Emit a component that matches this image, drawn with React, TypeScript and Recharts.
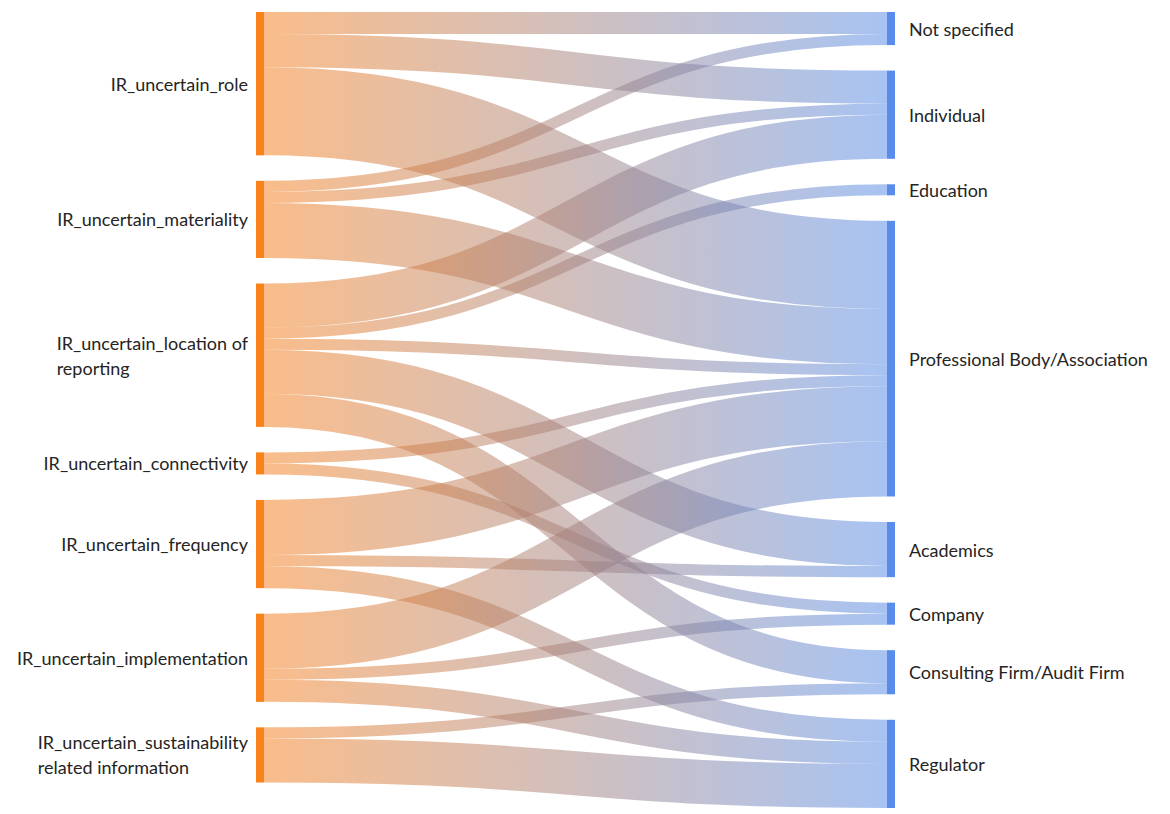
import React from "react";
import { Sankey } from "recharts";

document.body.style.margin = "0";

const sourceNames = [
  "IR_uncertain_role",
  "IR_uncertain_materiality",
  "IR_uncertain_location of reporting",
  "IR_uncertain_connectivity",
  "IR_uncertain_frequency",
  "IR_uncertain_implementation",
  "IR_uncertain_sustainability related information",
];

const targetNames = [
  "Not specified",
  "Individual",
  "Education",
  "Professional Body/Association",
  "Academics",
  "Company",
  "Consulting Firm/Audit Firm",
  "Regulator",
];

// [source index, target index, count]
const flows: [number, number, number][] = [
  [0, 0, 2], [0, 1, 3], [0, 3, 8],
  [1, 0, 1], [1, 1, 1], [1, 3, 5],
  [2, 1, 4], [2, 2, 1], [2, 3, 1], [2, 4, 4], [2, 6, 3],
  [3, 3, 1], [3, 5, 1],
  [4, 3, 5], [4, 4, 1], [4, 7, 2],
  [5, 3, 5], [5, 5, 1], [5, 7, 2],
  [6, 6, 1], [6, 7, 4],
];

const data = {
  nodes: [...sourceNames, ...targetNames].map((name) => ({ name })),
  links: flows.map(([s, t, v]) => ({ source: s, target: sourceNames.length + t, value: v })),
};

const FONT_NAME = "Lato";
const FONT_SIZE = 18;
const LINE_H = 25;
const TEXT = "#252423";
const ORANGE = "#F9821A";
const BLUE = "#5A8CEB";

// wrap long source labels the way the original does: lines left aligned,
// block pushed against the node
const ctx = document.createElement("canvas").getContext("2d");
function wrapLabel(text: string, maxWidth: number) {
  if (!ctx) return { lines: [text], width: 0 };
  ctx.font = `${FONT_SIZE}px ${FONT_NAME}`;
  const lines: string[] = [];
  let cur = "";
  for (const w of text.split(" ")) {
    const test = cur ? `${cur} ${w}` : w;
    if (cur && ctx.measureText(test).width > maxWidth) {
      lines.push(cur);
      cur = w;
    } else {
      cur = test;
    }
  }
  if (cur) lines.push(cur);
  const width = Math.max(...lines.map((l) => ctx.measureText(l).width));
  return { lines, width };
}

function SankeyNode(props: any) {
  const { x, y, width, height, index, payload } = props;
  const isSource = index < sourceNames.length;
  const cy = y + height / 2;
  if (isSource) {
    const { lines, width: w } = wrapLabel(payload.name, 240);
    const right = x - 8;
    const y0 = cy - ((lines.length - 1) * LINE_H) / 2;
    return (
      <g>
        <rect x={x} y={y} width={width} height={height} fill={ORANGE} />
        <text fontFamily={FONT_NAME} fontSize={FONT_SIZE} fill={TEXT}>
          {lines.map((l, i) => (
            <tspan key={i} x={right - w} y={y0 + i * LINE_H} dominantBaseline="central">
              {l}
            </tspan>
          ))}
        </text>
      </g>
    );
  }
  return (
    <g>
      <rect x={x} y={y} width={width} height={height} fill={BLUE} />
      <text
        x={x + width + 14}
        y={cy}
        dominantBaseline="central"
        fontFamily={FONT_NAME}
        fontSize={FONT_SIZE}
        fill={TEXT}
      >
        {payload.name}
      </text>
    </g>
  );
}

function SankeyLink(props: any) {
  const { sourceX, targetX, sourceY, targetY, sourceControlX, targetControlX, linkWidth, index } = props;
  const id = `flow-grad-${index}`;
  return (
    <g>
      <defs>
        <linearGradient id={id} gradientUnits="userSpaceOnUse" x1={sourceX} y1={0} x2={targetX} y2={0}>
          <stop offset="0%" stopColor="#F47A16" />
          <stop offset="100%" stopColor="#5187E5" />
        </linearGradient>
      </defs>
      <path
        d={`M${sourceX},${sourceY} C${sourceControlX},${sourceY} ${targetControlX},${targetY} ${targetX},${targetY}`}
        fill="none"
        stroke={`url(#${id})`}
        strokeWidth={linkWidth}
        strokeOpacity={0.5}
      />
    </g>
  );
}

export default function App() {
  return (
    <div style={{ width: 1170, height: 814, background: "#fff" }}>
      <Sankey
        width={1170}
        height={814}
        data={data}
        margin={{ top: 12, right: 275, bottom: 6, left: 256 }}
        nodeWidth={8}
        nodePadding={25.5}
        sort={false}
        iterations={0}
        node={(p: any) => <SankeyNode {...p} />}
        link={(p: any) => <SankeyLink {...p} />}
      />
    </div>
  );
}
